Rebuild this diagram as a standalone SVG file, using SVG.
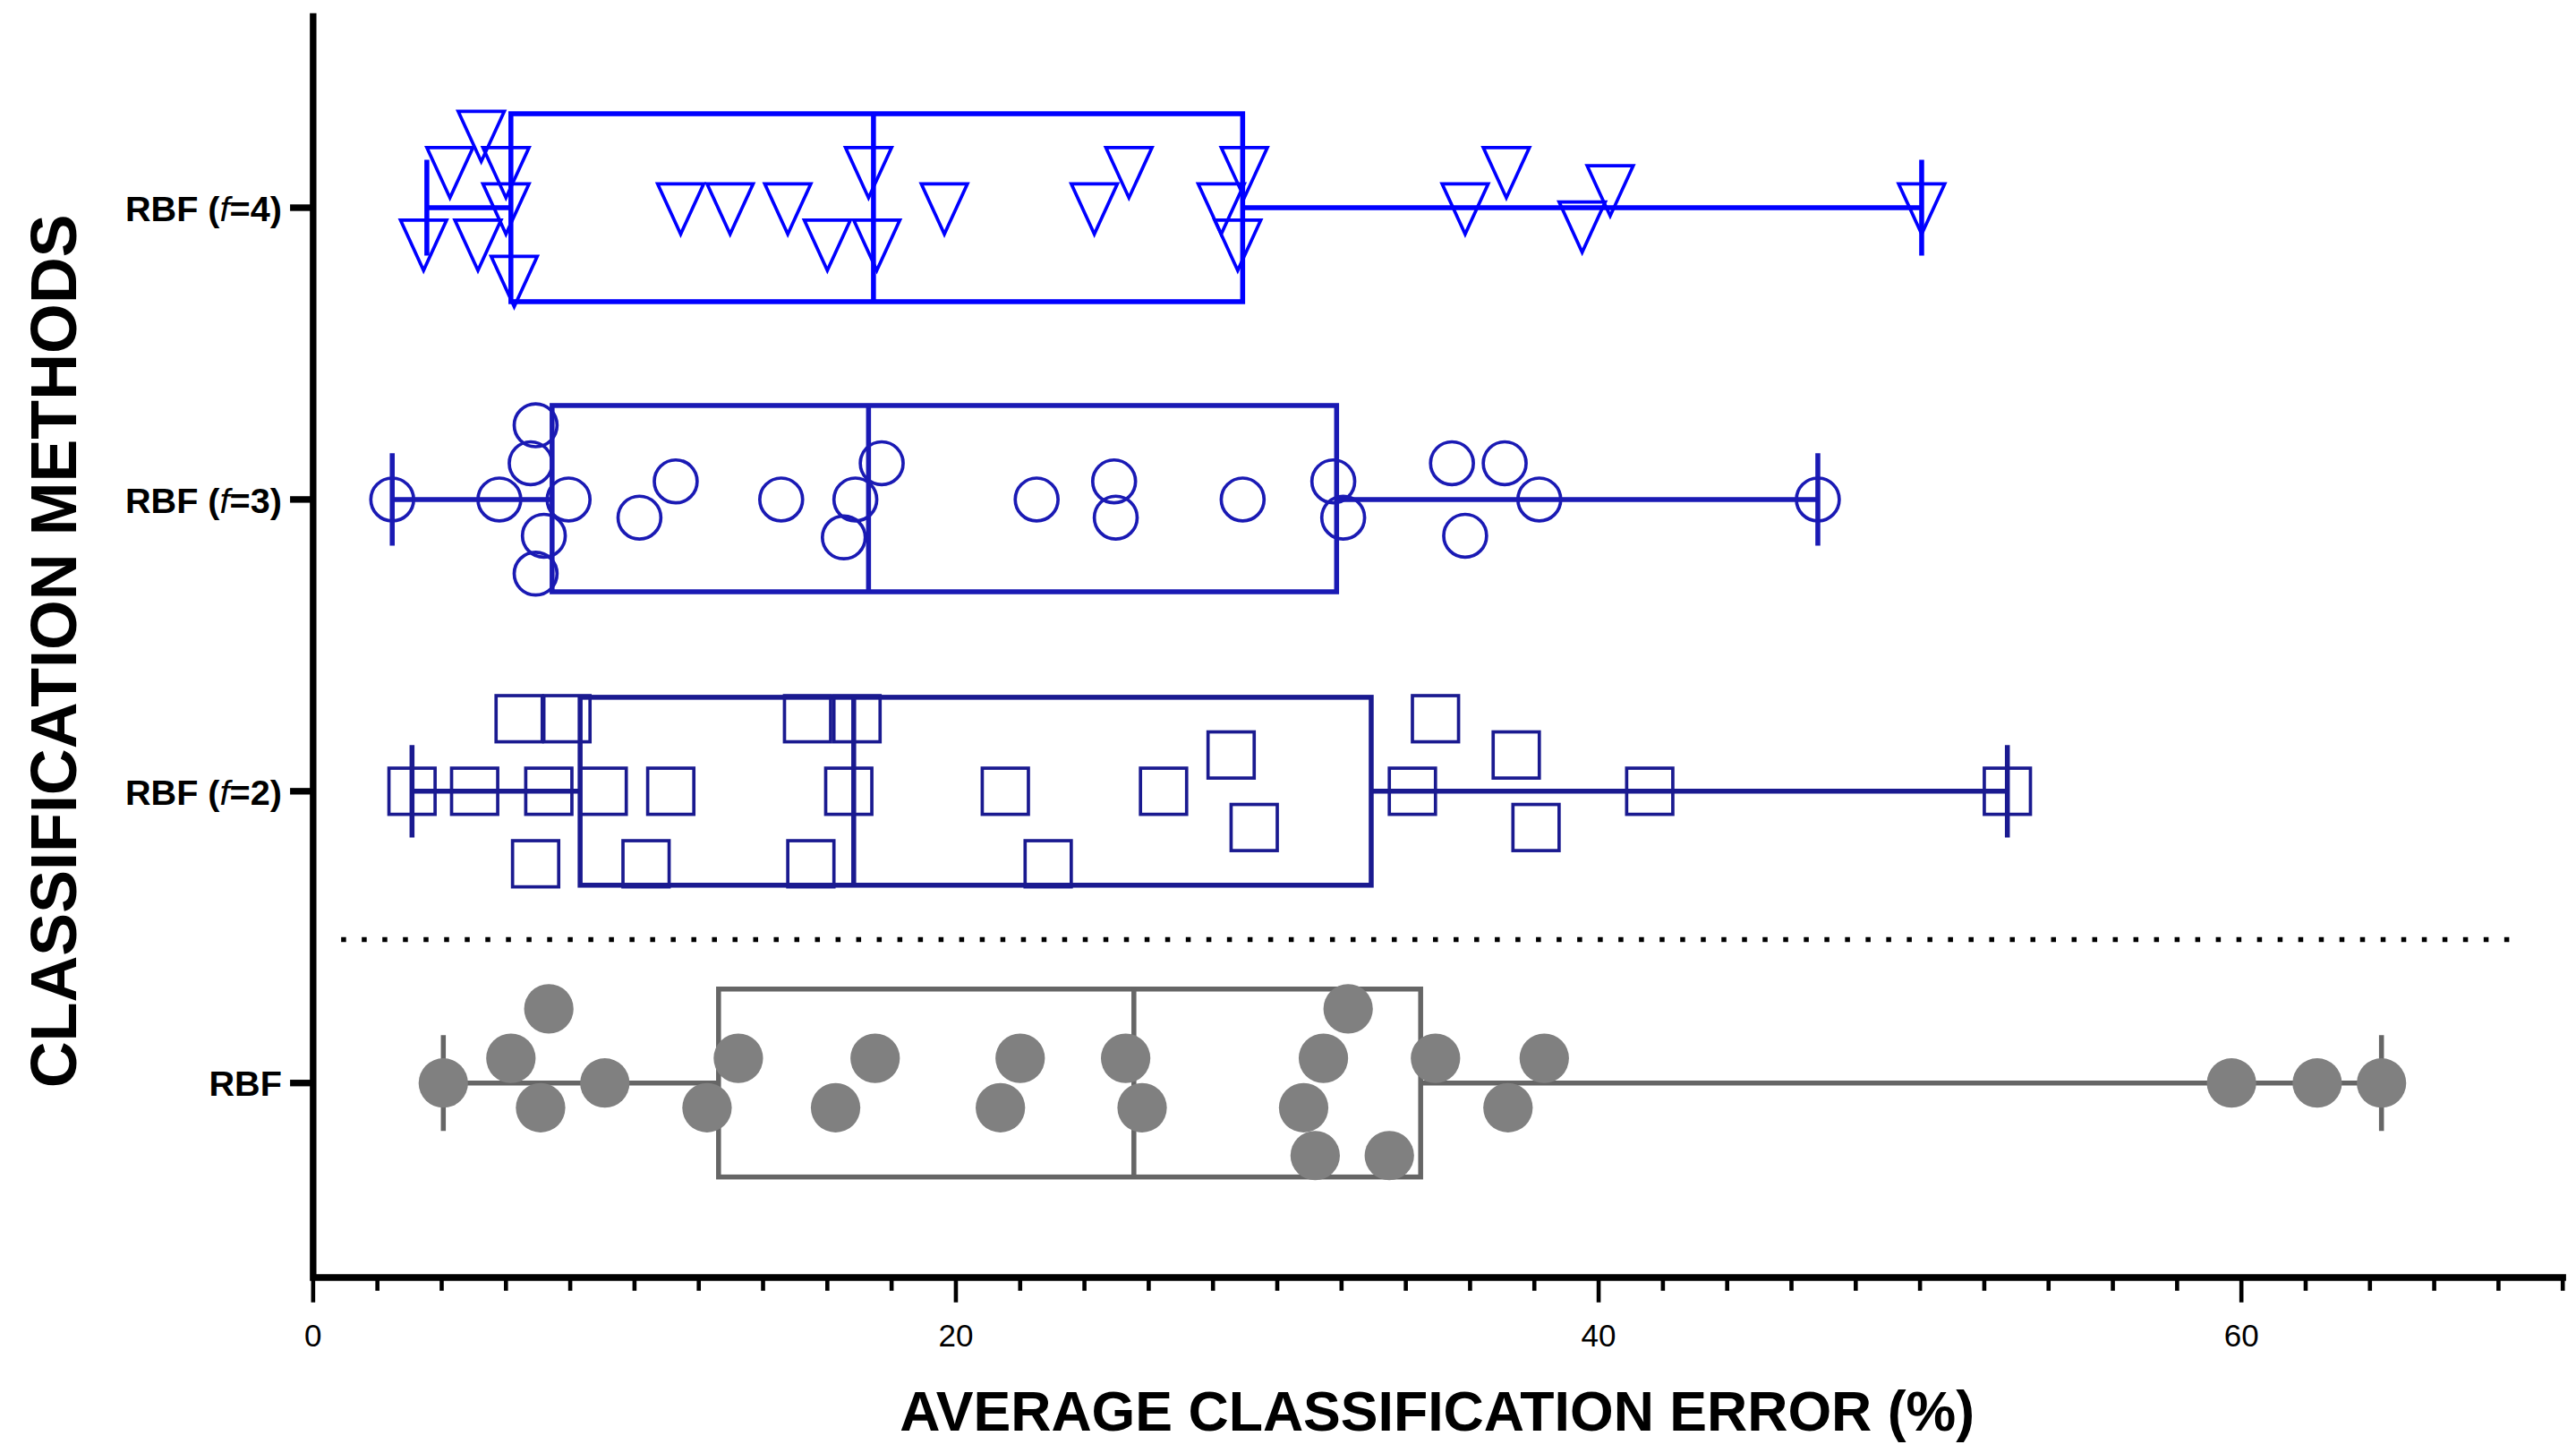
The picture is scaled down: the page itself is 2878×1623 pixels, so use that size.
<svg xmlns="http://www.w3.org/2000/svg" width="2878" height="1623" viewBox="0 0 2878 1623">
<style>
.ax{stroke:#000;stroke-width:4;fill:none}
.tk{stroke:#000;stroke-width:2.5}
.lbl{font-family:"Liberation Sans",Arial,sans-serif;font-weight:bold;font-size:21.5px;fill:#000}
.g{stroke:#666;stroke-width:3;fill:none}
.gp{fill:#808080}
.n2{stroke:#1a1a90;stroke-width:3;fill:none}
.s2{stroke:#1a1a90;stroke-width:2;fill:none}
.n3{stroke:#1a1ab4;stroke-width:3;fill:none}
.s3{stroke:#1a1ab4;stroke-width:2;fill:none}
.n4{stroke:#0000ff;stroke-width:3;fill:none}
.s4{stroke:#0000ff;stroke-width:2;fill:none}
</style>
<defs>
<rect id="sq" x="-14" y="-14" width="28" height="28"/>
<circle id="ci" r="13"/>
<circle id="cf" r="15"/>
<path id="tr" d="M-14,-14.5 L14,-14.5 L0,16 Z"/>
</defs>
<rect width="2878" height="1623" fill="#fff"/>
<g transform="scale(1.8413)">
<g id="axes">
<path class="ax" d="M190,8 V775 H1557"/>
<g class="tk">
<line x1="176" y1="126" x2="190" y2="126" stroke-width="4"/>
<line x1="176" y1="303" x2="190" y2="303" stroke-width="4"/>
<line x1="176" y1="480" x2="190" y2="480" stroke-width="4"/>
<line x1="176" y1="657" x2="190" y2="657" stroke-width="4"/>
<path d="M190,775V790 M580,775V790 M970,775V790 M1360,775V790 M229,775V783 M268,775V783 M307,775V783 M346,775V783 M385,775V783 M424,775V783 M463,775V783 M502,775V783 M541,775V783 M619,775V783 M658,775V783 M697,775V783 M736,775V783 M775,775V783 M814,775V783 M853,775V783 M892,775V783 M931,775V783 M1009,775V783 M1048,775V783 M1087,775V783 M1126,775V783 M1165,775V783 M1204,775V783 M1243,775V783 M1282,775V783 M1321,775V783 M1399,775V783 M1438,775V783 M1477,775V783 M1516,775V783 M1555,775V783"/>
</g>
<g class="lbl" text-anchor="middle" style="font-weight:normal;font-size:19px">
<text x="190" y="817">0</text><text x="580" y="817">20</text><text x="970" y="817">40</text><text x="1360" y="817">60</text>
</g>
<g class="lbl" text-anchor="end">
<text x="171" y="134">RBF (<tspan font-style="italic" font-weight="normal">f</tspan>=4)</text>
<text x="171" y="311">RBF (<tspan font-style="italic" font-weight="normal">f</tspan>=3)</text>
<text x="171" y="488">RBF (<tspan font-style="italic" font-weight="normal">f</tspan>=2)</text>
<text x="171" y="665">RBF</text>
</g>
<text x="872" y="868" text-anchor="middle" font-family="Liberation Sans,Arial,sans-serif" font-weight="bold" font-size="34">AVERAGE CLASSIFICATION ERROR (%)</text>
<text transform="translate(46,395) rotate(-90)" text-anchor="middle" font-family="Liberation Sans,Arial,sans-serif" font-weight="bold" font-size="39">CLASSIFICATION METHODS</text>
<line x1="207" y1="570" x2="1530" y2="570" stroke="#000" stroke-width="3" stroke-dasharray="3,9.5"/>
</g>
<g id="rbf">
<path class="g" d="M269,657H436 M862,657H1445 M269,628V686 M1445,628V686"/>
<rect class="g" x="436" y="600" width="426" height="114"/>
<line class="g" x1="688" y1="600" x2="688" y2="714" stroke-width="2"/>
<g class="gp">
<use href="#cf" x="269" y="657"/><use href="#cf" x="310" y="642"/><use href="#cf" x="333" y="612"/><use href="#cf" x="328" y="672"/><use href="#cf" x="367" y="657"/><use href="#cf" x="429" y="672"/><use href="#cf" x="448" y="642"/><use href="#cf" x="507" y="672"/><use href="#cf" x="531" y="642"/><use href="#cf" x="607" y="672"/><use href="#cf" x="619" y="642"/><use href="#cf" x="683" y="642"/><use href="#cf" x="693" y="672"/><use href="#cf" x="791" y="672"/><use href="#cf" x="803" y="642"/><use href="#cf" x="818" y="612"/><use href="#cf" x="798" y="701"/><use href="#cf" x="843" y="701"/><use href="#cf" x="871" y="642"/><use href="#cf" x="915" y="672"/><use href="#cf" x="937" y="642"/><use href="#cf" x="1354" y="657"/><use href="#cf" x="1406" y="657"/><use href="#cf" x="1445" y="657"/>
</g>
</g>
<g id="rbf-f2">
<path class="n2" d="M250,480H352 M832,480H1218 M250,452V508 M1218,452V508"/>
<rect class="n2" x="352" y="423" width="480" height="114"/>
<line class="n2" x1="518" y1="423" x2="518" y2="537"/>
<g class="s2">
<use href="#sq" x="250" y="480"/><use href="#sq" x="288" y="480"/><use href="#sq" x="333" y="480"/><use href="#sq" x="366" y="480"/><use href="#sq" x="407" y="480"/><use href="#sq" x="315" y="436"/><use href="#sq" x="344" y="436"/><use href="#sq" x="490" y="436"/><use href="#sq" x="520" y="436"/><use href="#sq" x="325" y="524"/><use href="#sq" x="392" y="524"/><use href="#sq" x="492" y="524"/><use href="#sq" x="515" y="480"/><use href="#sq" x="610" y="480"/><use href="#sq" x="636" y="524"/><use href="#sq" x="706" y="480"/><use href="#sq" x="747" y="458"/><use href="#sq" x="761" y="502"/><use href="#sq" x="857" y="480"/><use href="#sq" x="871" y="436"/><use href="#sq" x="920" y="458"/><use href="#sq" x="932" y="502"/><use href="#sq" x="1001" y="480"/><use href="#sq" x="1218" y="480"/>
</g>
</g>
<g id="rbf-f3">
<path class="n3" d="M238,303H335 M811,303H1103 M238,275V331 M1103,275V331"/>
<rect class="n3" x="335" y="246" width="476" height="113"/>
<line class="n3" x1="527" y1="246" x2="527" y2="359"/>
<g class="s3">
<use href="#ci" x="238" y="303"/><use href="#ci" x="303" y="303"/><use href="#ci" x="325" y="258"/><use href="#ci" x="322" y="281"/><use href="#ci" x="345" y="303"/><use href="#ci" x="330" y="325"/><use href="#ci" x="325" y="348"/><use href="#ci" x="388" y="314"/><use href="#ci" x="410" y="292"/><use href="#ci" x="474" y="303"/><use href="#ci" x="519" y="303"/><use href="#ci" x="512" y="326"/><use href="#ci" x="535" y="281"/><use href="#ci" x="629" y="303"/><use href="#ci" x="676" y="292"/><use href="#ci" x="677" y="314"/><use href="#ci" x="754" y="303"/><use href="#ci" x="809" y="292"/><use href="#ci" x="815" y="314"/><use href="#ci" x="881" y="281"/><use href="#ci" x="913" y="281"/><use href="#ci" x="934" y="303"/><use href="#ci" x="889" y="325"/><use href="#ci" x="1103" y="303"/>
</g>
</g>
<g id="rbf-f4">
<path class="n4" d="M259,126H310 M754,126H1166 M259,97V155 M1166,97V155"/>
<rect class="n4" x="310" y="69" width="444" height="114"/>
<line class="n4" x1="530" y1="69" x2="530" y2="183"/>
<g class="s4">
<use href="#tr" x="292" y="82"/><use href="#tr" x="273" y="104"/><use href="#tr" x="307" y="104"/><use href="#tr" x="527" y="104"/><use href="#tr" x="685" y="104"/><use href="#tr" x="755" y="104"/><use href="#tr" x="914" y="104"/><use href="#tr" x="977" y="115"/>
<use href="#tr" x="307" y="126"/><use href="#tr" x="413" y="126"/><use href="#tr" x="443" y="126"/><use href="#tr" x="478" y="126"/><use href="#tr" x="573" y="126"/><use href="#tr" x="664" y="126"/><use href="#tr" x="741" y="126"/><use href="#tr" x="889" y="126"/><use href="#tr" x="1166" y="126"/><use href="#tr" x="960" y="137"/>
<use href="#tr" x="257" y="148"/><use href="#tr" x="290" y="148"/><use href="#tr" x="502" y="148"/><use href="#tr" x="532" y="148"/><use href="#tr" x="751" y="148"/><use href="#tr" x="312" y="170"/>
</g>
</g>
</g>
</svg>
